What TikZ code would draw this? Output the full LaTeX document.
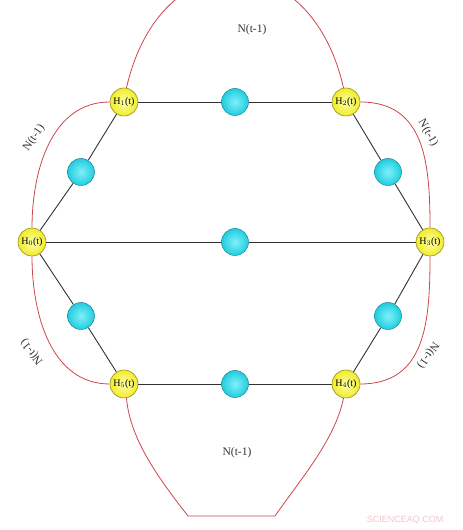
\documentclass[tikz,border=0pt]{standalone}
\usepackage{fontspec}
\setmainfont{Liberation Serif}
\newfontfamily\wmfont{Liberation Sans}
\definecolor{hubin}{RGB}{255,255,170}
\definecolor{hubout}{RGB}{240,236,40}
\definecolor{hubdraw}{RGB}{150,140,40}
\definecolor{midin}{RGB}{130,240,250}
\definecolor{midout}{RGB}{30,205,222}
\definecolor{middraw}{RGB}{30,130,150}
\definecolor{ringcol}{RGB}{205,70,75}
\definecolor{linkcol}{RGB}{50,50,50}
\definecolor{labcol}{RGB}{50,50,50}
\definecolor{wmcol}{RGB}{242,196,200}
\begin{document}
\begin{tikzpicture}[x=1pt,y=1pt,
  hub/.style={circle,draw=hubdraw,shading=radial,inner color=hubin,outer color=hubout,
    minimum size=28pt,inner sep=0pt,line width=0.6pt,font=\fontsize{10}{10}\selectfont},
  mid/.style={circle,draw=middraw,shading=radial,inner color=midin,outer color=midout,
    minimum size=27pt,inner sep=0pt,line width=0.5pt},
  link/.style={draw=linkcol,line width=0.9pt},
  ring/.style={draw=ringcol,line width=0.8pt},
  lab/.style={font=\fontsize{11.5}{11.5}\selectfont,text=labcol,inner sep=1pt}]
\useasboundingbox (0,0) rectangle (463,530);
\clip (0,0) rectangle (463,530);
% hub nodes
\node[hub] (H1) at (124,428) {H$_1$(t)};
\node[hub] (H2) at (346,428) {H$_2$(t)};
\node[hub] (H0) at (32,288) {H$_0$(t)};
\node[hub] (H3) at (430,288) {H$_3$(t)};
\node[hub] (H5) at (124,146) {H$_5$(t)};
\node[hub] (H4) at (346,146) {H$_4$(t)};
% middle nodes
\node[mid] (c12) at (235,428) {};
\node[mid] (c10) at (81,358) {};
\node[mid] (c23) at (388,358) {};
\node[mid] (c03) at (235,288) {};
\node[mid] (c05) at (81,214) {};
\node[mid] (c34) at (388,214) {};
\node[mid] (c54) at (235,146) {};
% links
\draw[link] (H1) -- (c12) -- (H2);
\draw[link] (H1) -- (c10) -- (H0);
\draw[link] (H2) -- (c23) -- (H3);
\draw[link] (H0) -- (c03) -- (H3);
\draw[link] (H0) -- (c05) -- (H5);
\draw[link] (H3) -- (c34) -- (H4);
\draw[link] (H5) -- (c54) -- (H4);
% red curves
\coordinate (bl) at (188,14);
\coordinate (br) at (275,14);
\draw[ring] (H1.80) .. controls (160,590) and (310,590) .. (H2.100);
\draw[ring] (H1.west) to[out=180,in=90] (H0.north);
\draw[ring] (H2.east) to[out=0,in=90,looseness=1.15] (H3.north);
\draw[ring] (H0.south) to[out=-90,in=180] (H5.west);
\draw[ring] (H3.south) to[out=-90,in=0,looseness=1.15] (H4.east);
\draw[ring] (H5.-80) .. controls (130,90) and (160,50) .. (bl) -- (br)
  .. controls (300,50) and (335,90) .. (H4.-100);
% labels
\node[lab] (Ltop) at (252,500) {N(t-1)};
\node[lab] (Lbot) at (237,77) {N(t-1)};
\node[lab,rotate=55] (Llt) at (34,392) {N(t-1)};
\node[lab,rotate=-60] (Lrt) at (428,397) {N(t-1)};
\node[lab,rotate=128] (Llb) at (32,178) {N(t-1)};
\node[lab,rotate=-125] (Lrb) at (428,175) {N(t-1)};
\node[font=\wmfont\fontsize{9}{9}\selectfont,text=wmcol] (wm) at (405,10) {SCIENCEAQ.COM};
\end{tikzpicture}
\end{document}
